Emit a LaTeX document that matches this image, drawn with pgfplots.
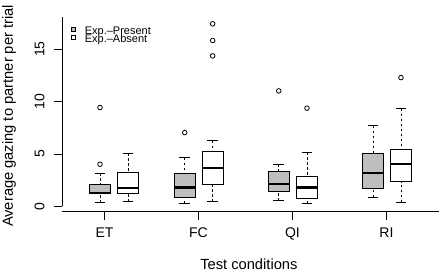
\documentclass[border=0pt]{standalone}
\usepackage{fontspec}
\setmainfont{Liberation Sans}
\usepackage{pgfplots}
\pgfplotsset{compat=1.18}
\usepgfplotslibrary{statistics}
\definecolor{boxgrey}{HTML}{BEBEBE}
\newcommand{\lblfont}{\fontsize{14.7}{16}\selectfont}
\newcommand{\tckfont}{\fontsize{14}{16}\selectfont}
\begin{document}
\begin{tikzpicture}
\path[use as bounding box] (-62.5pt,-60.3pt) rectangle (378.5pt,211.7pt);
\begin{axis}[
  at={(0pt,0pt)}, anchor=south west,
  scale only axis, width=376.5pt, height=195pt,
  xmin=0.553, xmax=4.559, ymin=-0.51, ymax=18.1,
  axis line style={draw=none},
  tick pos=left,
  clip=false,
  xtick={1,2,3,4}, xticklabels={ET,FC,QI,RI},
  ytick={0,5,10,15}, yticklabels={0,5,10,15},
  tick align=outside, major tick length=8pt,
  tick style={draw=black, line width=0.8pt},
  xticklabel style={anchor=base, inner sep=0pt, yshift=-17.5pt, font=\tckfont},
  yticklabel style={xshift=-10pt, rotate=90, anchor=base, inner sep=0pt, font=\tckfont},
  xlabel={Test conditions}, ylabel={Average gazing to partner per trial},
  every axis x label/.style={at={(axis description cs:0.495,-0.298)}, anchor=base, font=\lblfont},
  every axis y label/.style={at={(axis description cs:-0.1315,0.491)}, rotate=90, anchor=base, font=\lblfont},
  legend style={at={(axis description cs:0.0218,0.9513)}, anchor=north west, draw=none, fill=none,
    inner sep=0pt, outer sep=0pt, column sep=8.8pt, row sep=-2.35pt,
    font=\fontsize{11}{12}\selectfont, nodes={inner sep=0pt, text height=8pt, text depth=2.3pt}},
  legend cell align=left,
  boxplot/draw direction=y,
  boxplot/every median/.style={line width=2.2pt},
  boxplot/draw/lower whisker/.code={%
    \draw[dash pattern=on 2.5pt off 2.5pt] (boxplot cs:\pgfplotsboxplotvalue{lower whisker}) -- (boxplot cs:\pgfplotsboxplotvalue{lower quartile});
    \draw[solid] (boxplot whisker cs:\pgfplotsboxplotvalue{lower whisker},0) -- (boxplot whisker cs:\pgfplotsboxplotvalue{lower whisker},1);
  },
  boxplot/draw/upper whisker/.code={%
    \draw[dash pattern=on 2.5pt off 2.5pt] (boxplot cs:\pgfplotsboxplotvalue{upper whisker}) -- (boxplot cs:\pgfplotsboxplotvalue{upper quartile});
    \draw[solid] (boxplot whisker cs:\pgfplotsboxplotvalue{upper whisker},0) -- (boxplot whisker cs:\pgfplotsboxplotvalue{upper whisker},1);
  },
  greybox/.style={black, line width=0.8pt, mark=o, mark size=2.3pt, mark options={solid, line width=0.8pt}, forget plot,
    boxplot/every box/.style={fill=boxgrey}},
  whitebox/.style={black, line width=0.8pt, mark=o, mark size=2.3pt, mark options={solid, line width=0.8pt}, forget plot,
    boxplot/every box/.style={fill=white}},
  boxplot/box extend=0.227, boxplot/whisker extend=0.115,
]
% ET
\addplot[greybox, boxplot prepared={draw position=0.952, lower whisker=0.35, lower quartile=1.21, median=1.31, upper quartile=2.07, upper whisker=3.16}] coordinates {(0,4.02) (0,9.43)};
\addplot[whitebox, boxplot prepared={draw position=1.25, lower whisker=0.45, lower quartile=1.28, median=1.73, upper quartile=3.22, upper whisker=5.07}] coordinates {};
% FC
\addplot[greybox, boxplot prepared={draw position=1.853, lower whisker=0.30, lower quartile=0.90, median=1.79, upper quartile=3.12, upper whisker=4.65}] coordinates {(0,7.04)};
\addplot[whitebox, boxplot prepared={draw position=2.151, lower whisker=0.45, lower quartile=2.14, median=3.67, upper quartile=5.20, upper whisker=6.25}] coordinates {(0,14.36) (0,15.83) (0,17.42)};
% QI
\addplot[greybox, boxplot prepared={draw position=2.854, lower whisker=0.55, lower quartile=1.47, median=2.17, upper quartile=3.38, upper whisker=4.02}] coordinates {(0,11.02)};
\addplot[whitebox, boxplot prepared={draw position=3.154, lower whisker=0.30, lower quartile=0.80, median=1.79, upper quartile=2.87, upper whisker=5.17}] coordinates {(0,9.37)};
% RI
\addplot[greybox, boxplot prepared={draw position=3.856, lower whisker=0.87, lower quartile=1.76, median=3.19, upper quartile=5.07, upper whisker=7.71}] coordinates {};
\addplot[whitebox, boxplot prepared={draw position=4.154, lower whisker=0.39, lower quartile=2.36, median=4.05, upper quartile=5.39, upper whisker=9.33}] coordinates {(0,12.29)};
% legend
\addlegendimage{legend image code/.code={\draw[fill=boxgrey, line width=0.7pt] (0pt,0pt) rectangle (4.6pt,4.3pt);}}
\addlegendentry{Exp.–Present}
\addlegendimage{legend image code/.code={\draw[fill=white, line width=0.7pt] (0pt,0pt) rectangle (4.6pt,4.3pt);}}
\addlegendentry{Exp.–Absent}
% axis lines
\draw[line width=0.8pt] (rel axis cs:0,0) -- (rel axis cs:1,0);
\draw[line width=0.8pt] (axis cs:0.553,0) -- (rel axis cs:0,1);
\end{axis}
\end{tikzpicture}
\end{document}
